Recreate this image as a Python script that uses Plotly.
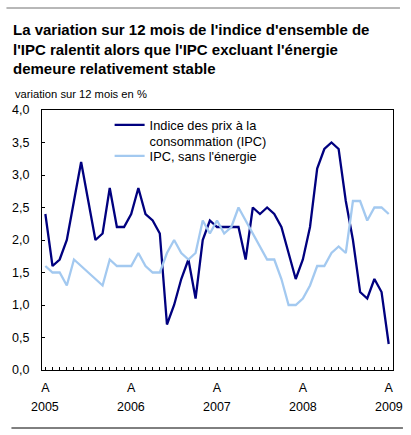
import plotly.graph_objects as go

# Monthly data, April 2005 -> April 2009 (49 months)
month_index = list(range(49))
cpi_all = [2.4, 1.6, 1.7, 2.0, 2.6, 3.2, 2.6, 2.0, 2.1,
           2.8, 2.2, 2.2, 2.4, 2.8, 2.4, 2.3, 2.1, 0.7, 1.0, 1.4, 1.7,
           1.1, 2.0, 2.3, 2.2, 2.2, 2.2, 2.2, 1.7, 2.5, 2.4, 2.5, 2.4,
           2.2, 1.8, 1.4, 1.7, 2.2, 3.1, 3.4, 3.5, 3.4, 2.6, 2.0, 1.2,
           1.1, 1.4, 1.2, 0.4]
cpi_ex_energy = [1.6, 1.5, 1.5, 1.3, 1.7, 1.6, 1.5, 1.4, 1.3,
                 1.7, 1.6, 1.6, 1.6, 1.8, 1.6, 1.5, 1.5, 1.8, 2.0, 1.8, 1.7,
                 1.8, 2.3, 2.1, 2.3, 2.1, 2.2, 2.5, 2.3, 2.1, 1.9, 1.7, 1.7,
                 1.4, 1.0, 1.0, 1.1, 1.3, 1.6, 1.6, 1.8, 1.9, 1.8, 2.6, 2.6,
                 2.3, 2.5, 2.5, 2.4]
tick_positions = [0, 12, 24, 36, 48]
tick_labels = ["A", "A", "A", "A", "A"]
year_labels = ["2005", "2006", "2007", "2008", "2009"]

series_names = ["Indice des prix à la<br>consommation (IPC)", "IPC, sans l'énergie"]

FONT = "Liberation Sans, Arial, sans-serif"

fig = go.Figure()
fig.add_trace(go.Scatter(x=month_index, y=cpi_all, mode="lines", name=series_names[0],
                         line=dict(color="#00007f", width=2.3), legend="legend", showlegend=True))
fig.add_trace(go.Scatter(x=month_index, y=cpi_ex_energy, mode="lines", name=series_names[1],
                         line=dict(color="#a3c9f0", width=2.3), legend="legend2", showlegend=True))

L, R, T, B = 40, 18, 110, 65
W, H = 411, 435
pw, ph = W - L - R, H - T - B

def px_to_paper_x(px):
    return (px - L) / pw

def py_to_paper_y(py):
    return (H - B - py) / ph

annotations = []
for xv, yr in zip(tick_positions, year_labels):
    annotations.append(dict(x=xv, xref="x", y=py_to_paper_y(407), yref="paper", text=yr,
                            showarrow=False, xanchor="center", yanchor="middle",
                            font=dict(size=12.5, color="#000", family=FONT)))
annotations.append(dict(x=px_to_paper_x(11), xref="paper", y=py_to_paper_y(94), yref="paper",
                        text="variation sur 12 mois en %", showarrow=False,
                        xanchor="left", yanchor="middle",
                        font=dict(size=11.2, color="#000", family=FONT)))

# horizontal rules (top grey, bottom black) drawn as arrow-less annotation lines
annotations.append(dict(x=px_to_paper_x(400), xref="paper", y=py_to_paper_y(8), yref="paper",
                        text="", showarrow=True, arrowhead=0, arrowwidth=1, arrowcolor="#707070",
                        ax=-395, ay=0, axref="pixel", ayref="pixel", standoff=0, startstandoff=0))
annotations.append(dict(x=px_to_paper_x(403), xref="paper", y=py_to_paper_y(428), yref="paper",
                        text="", showarrow=True, arrowhead=0, arrowwidth=1, arrowcolor="#000",
                        ax=-393, ay=0, axref="pixel", ayref="pixel", standoff=0, startstandoff=0))

fig.update_layout(
    width=W, height=H,
    margin=dict(l=L, r=R, t=T, b=B),
    paper_bgcolor="white", plot_bgcolor="white",
    separators=", ",
    showlegend=True,
    font=dict(family=FONT, color="#000", size=12.5),
    title=dict(text="<b>La variation sur 12 mois de l'indice d'ensemble de<br>"
                    "l'IPC ralentit alors que l'IPC excluant l'énergie<br>"
                    "demeure relativement stable</b>",
               x=13 / W, xanchor="left", xref="container",
               y=1 - 35 / H, yanchor="top", yref="container",
               font=dict(size=15, family=FONT, color="#000")),
    xaxis=dict(range=[-0.47, 48.6], tickmode="array", tickvals=tick_positions, ticktext=tick_labels,
               ticks="inside", ticklen=3, tickcolor="#000",
               minor=dict(dtick=1, ticks="inside", ticklen=3, tickcolor="#000", showgrid=False),
               showline=True, linecolor="#000", linewidth=1, mirror=True,
               showgrid=False, zeroline=False, ticklabelstandoff=6,
               tickfont=dict(size=12.5, family=FONT)),
    yaxis=dict(range=[0, 4], dtick=0.5, tickformat=".1f",
               ticks="inside", ticklen=3, tickcolor="#000",
               showline=True, linecolor="#000", linewidth=1, mirror=True,
               showgrid=False, zeroline=False, ticklabelstandoff=9,
               tickfont=dict(size=12.5, family=FONT)),
    legend=dict(x=px_to_paper_x(108), xanchor="left", y=py_to_paper_y(110), yanchor="top",
                bgcolor="rgba(0,0,0,0)", font=dict(size=12.8, family=FONT), valign="top",
                itemwidth=30),
    legend2=dict(x=px_to_paper_x(108), xanchor="left", y=py_to_paper_y(141), yanchor="top",
                 bgcolor="rgba(0,0,0,0)", font=dict(size=12.8, family=FONT), valign="top",
                 itemwidth=30),
    annotations=annotations,
)

fig.write_html("out.html", post_script="document.body.style.margin='0';",
               config={"displayModeBar": False})
